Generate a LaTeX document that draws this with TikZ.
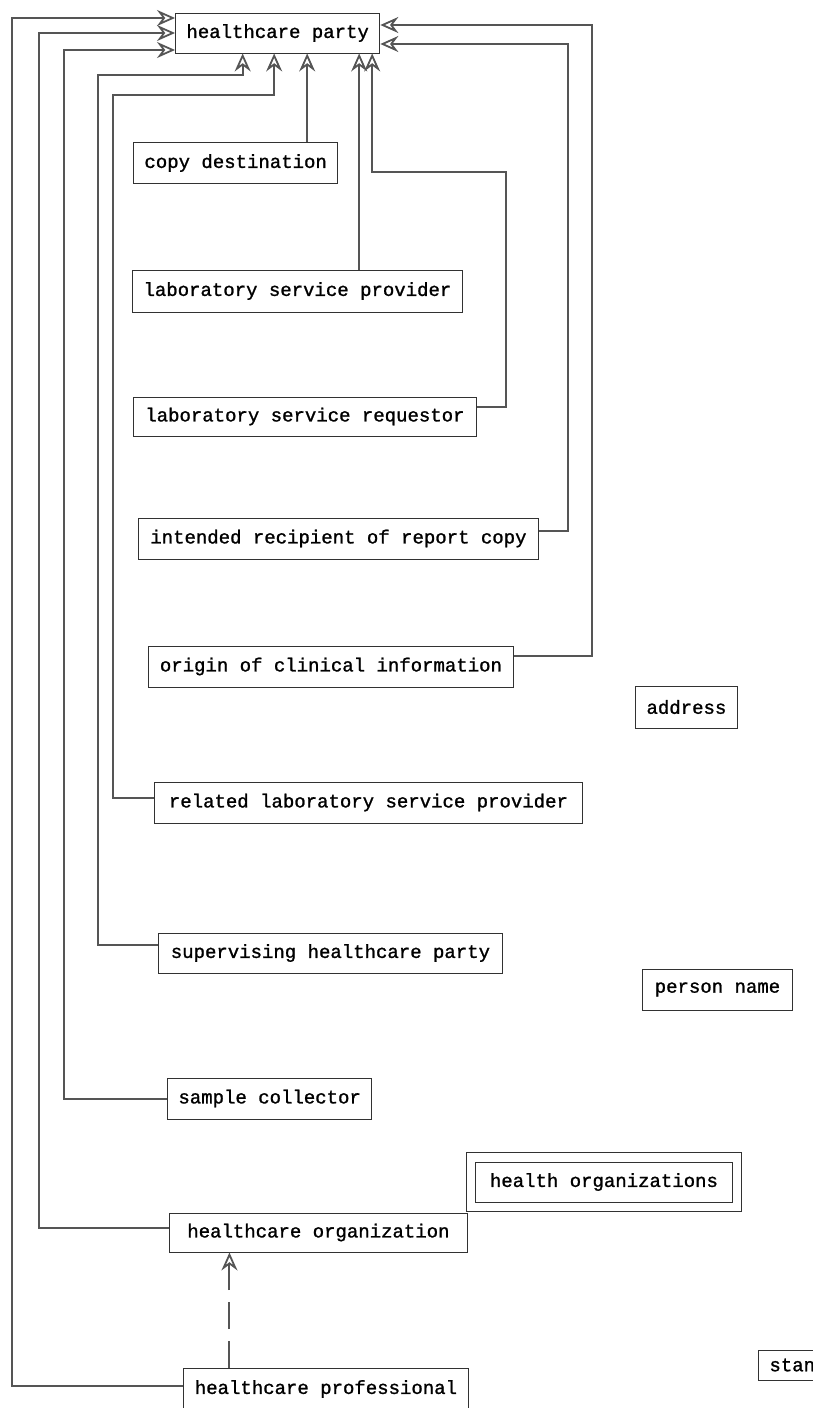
\documentclass[tikz,border=0pt]{standalone}
\usepackage{fontspec}
\newfontfamily\scanfont[BoldFont={Liberation Mono}, BoldFeatures={FakeBold=1.2}]{Liberation Mono}
\usetikzlibrary{arrows.meta, positioning, fit}
\definecolor{wiregray}{RGB}{85,85,85}
\definecolor{edgegray}{RGB}{50,50,50}
\tikzset{
  entity/.style={
    rectangle, draw=edgegray, line width=0.9pt, fill=white, anchor=west,
    minimum height=41pt, inner xsep=11pt, inner ysep=0pt,
    font=\scanfont\bfseries\fontsize{19}{22}\selectfont
  },
  link/.style={-{Stealth[open, length=18pt, width=16pt, inset=6pt, line width=1.8pt]}, line width=2pt, draw=wiregray},
  derive/.style={link, dash pattern=on 27pt off 12pt}
}

\begin{document}
\begin{tikzpicture}[x=1pt, y=-1pt]
\useasboundingbox (0,0) rectangle (813,1408);

% Parent class
\node[entity, minimum width=201pt, minimum height=40pt] (hcparty) at (175,33) {healthcare party};

% Roles of the party
\node[entity, minimum width=201pt] (copydest) at (133,163) {copy destination};
\node[entity, minimum width=330pt, minimum height=42pt] (labprov) at (132,291) {laboratory service provider};
\node[entity, minimum width=343pt, minimum height=39pt] (labreq) at (133,416.5) {laboratory service requestor};
\node[entity, minimum width=400pt] (recipient) at (138,538.5) {intended recipient of report copy};
\node[entity, minimum width=365pt] (origin) at (148,666.5) {origin of clinical information};
\node[entity, minimum width=428pt] (rellab) at (154,802.5) {related laboratory service provider};
\node[entity, minimum width=344pt, minimum height=40pt] (supervisor) at (158,953) {supervising healthcare party};
\node[entity, minimum width=203pt] (collector) at (167,1098.5) {sample collector};
\node[entity, minimum width=298pt, minimum height=39pt] (hcorg) at (169,1232.5) {healthcare organization};
\node[entity, minimum width=285pt] (hcprof) at (183,1389) {healthcare professional};

% Other classes
\node[entity, minimum width=102pt, minimum height=42pt] (address) at (635,707) {address};
\node[entity, minimum width=150pt] (persname) at (642,989.5) {person name};
\node[entity, minimum width=257pt, minimum height=40pt] (healthorgs) at (475,1182) {health organizations};
\node[fit=(healthorgs), inner sep=9pt, draw=edgegray, line width=0.9pt] (healthorgsframe) {};
\node[entity, minimum height=30pt, text width=70pt, align=left] (stan) at (758,1365) {stan};

% Ports on the parent
\coordinate (b1) at ([xshift=-35pt]hcparty.south);
\coordinate (b2) at ([xshift=-3.5pt]hcparty.south);
\coordinate (b3) at ([xshift=29.5pt]hcparty.south);
\coordinate (b4) at ([xshift=81.5pt]hcparty.south);
\coordinate (b5) at ([xshift=94.5pt]hcparty.south);
\coordinate (l1) at ([yshift=15pt]hcparty.west);
\coordinate (l2) at (hcparty.west);
\coordinate (l3) at ([yshift=-17pt]hcparty.west);
\coordinate (r1) at ([yshift=8pt]hcparty.east);
\coordinate (r2) at ([yshift=-11pt]hcparty.east);

% Generalisations
\draw[link] (copydest.north -| b3) -- (b3);
\draw[link] (labprov.north -| b4) -- (b4);
\draw[link] ([yshift=10pt]labreq.east) -- ++(29,0) -- ++(0,-234.5) -| (b5);
\draw[link] ([yshift=8pt]recipient.east) -- ++(29,0) |- (r2);
\draw[link] ([yshift=11pt]origin.east) -- ++(78,0) |- (r1);
\draw[link] ([yshift=5pt]rellab.west) -- ++(-41,0) -- ++(0,-702.5) -| (b2);
\draw[link] ([yshift=8pt]supervisor.west) -- ++(-60,0) -- ++(0,-870) -| (b1);
\draw[link] (collector.west) -- ++(-103,0) |- (l3);
\draw[link] ([yshift=5pt]hcorg.west) -- ++(-130,0) |- (l2);
\draw[link] ([yshift=3pt]hcprof.west) -- ++(-171,0) |- (l1);

% Dashed link
\coordinate (d1) at ([xshift=-89pt]hcorg.south);
\draw[derive] (hcprof.north -| d1) -- (d1);

\end{tikzpicture}
\end{document}
